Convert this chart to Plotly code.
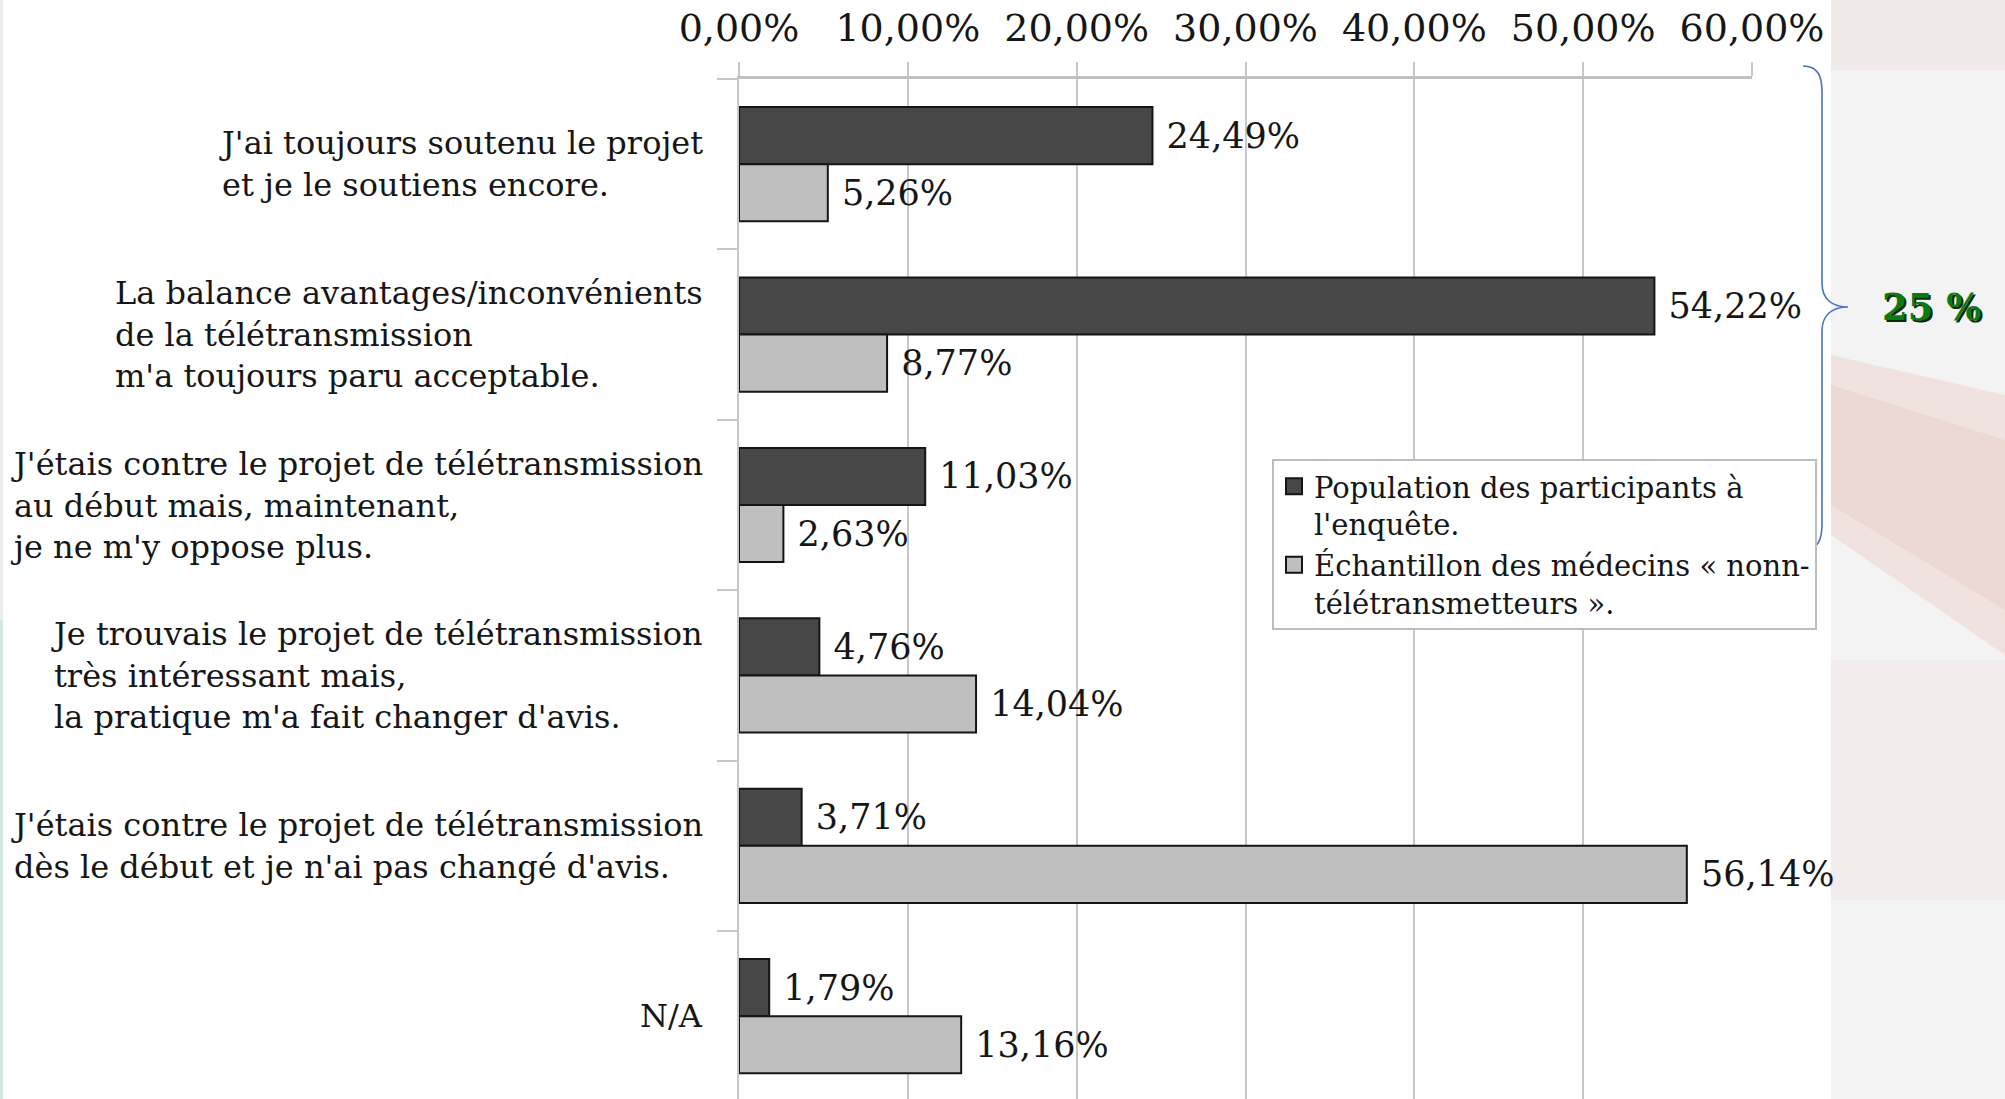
import plotly.graph_objects as go

# ---------------- data ----------------
categories = [
    "J'ai toujours soutenu le projet<br>et je le soutiens encore.",
    "La balance avantages/inconvénients<br>de la télétransmission<br>m'a toujours paru acceptable.",
    "J'étais contre le projet de télétransmission<br>au début mais, maintenant,<br>je ne m'y oppose plus.",
    "Je trouvais le projet de télétransmission<br>très intéressant mais,<br>la pratique m'a fait changer d'avis.",
    "J'étais contre le projet de télétransmission<br>dès le début et je n'ai pas changé d'avis.",
    "N/A",
]
participants = [24.49, 54.22, 11.03, 4.76, 3.71, 1.79]
non_teletransmetteurs = [5.26, 8.77, 2.63, 14.04, 56.14, 13.16]
series_names = [
    "Population des participants à<br>l'enquête.",
    "Échantillon des médecins « nonn-<br>télétransmetteurs ».",
]
x_tick_values = [0, 10, 20, 30, 40, 50, 60]
x_tick_labels = ["0,00%", "10,00%", "20,00%", "30,00%", "40,00%", "50,00%", "60,00%"]
brace_label = "25 %"

# ---------------- layout geometry (pixels) ----------------
W, H = 2005, 1099
PL, PR, PT, PB = 739, 1752, 79, 1099
CAT_PX = 170.4


def px_x(x):
    return (x - PL) / (PR - PL)


def px_y(y):
    return (PB - y) / (PB - PT)


def fmt(v):
    return "\u00a0" + f"{v:.2f}".replace(".", ",") + "%"


FONT = "DejaVu Serif"
DARK = "#474747"
LIGHT = "#bfbfbf"
EDGE = "#151515"
GRID = "#c8c8c8"
TXT = "#161616"

fig = go.Figure()

fig.add_trace(go.Bar(
    y=categories, x=participants, orientation="h",
    marker=dict(color=DARK, line=dict(color=EDGE, width=2)),
    text=[fmt(v) for v in participants], textposition="outside",
    textfont=dict(family=FONT, size=35, color=TXT),
    cliponaxis=False, constraintext="none", showlegend=False,
    name=series_names[0],
))
fig.add_trace(go.Bar(
    y=categories, x=non_teletransmetteurs, orientation="h",
    marker=dict(color=LIGHT, line=dict(color=EDGE, width=2)),
    text=[fmt(v) for v in non_teletransmetteurs], textposition="outside",
    textfont=dict(family=FONT, size=35, color=TXT),
    cliponaxis=False, constraintext="none", showlegend=False,
    name=series_names[1],
))

# legend entries
for name, col in zip(series_names, [DARK, LIGHT]):
    fig.add_trace(go.Scatter(
        x=[None], y=[None], mode="markers", name=name,
        marker=dict(symbol="square", size=16, color=col, line=dict(color=EDGE, width=2)),
    ))

annotations = []
for cat in categories:
    annotations.append(dict(
        x=px_x(705), xref="paper", y=cat, yref="y",
        text=cat, showarrow=False, xanchor="right", yanchor="middle", align="left",
        font=dict(family=FONT, size=32, color=TXT),
    ))

# "25 %" with shadow
annotations.append(dict(
    x=px_x(1934), y=px_y(309), xref="paper", yref="paper", text=brace_label,
    showarrow=False, xanchor="center", yanchor="middle",
    font=dict(family=FONT, size=37, color="#0d2a0d", weight="bold"),
))
annotations.append(dict(
    x=px_x(1932), y=px_y(307), xref="paper", yref="paper", text=brace_label,
    showarrow=False, xanchor="center", yanchor="middle",
    font=dict(family=FONT, size=37, color="#0b7a12", weight="bold"),
))


def P(x, y):
    return f"{px_x(x):.5f},{px_y(y):.5f}"


brace = (
    f"M {P(1803, 66)} C {P(1818, 66)} {P(1822, 76)} {P(1822, 92)} "
    f"L {P(1822, 283)} C {P(1822, 299)} {P(1832, 307)} {P(1848, 307)} "
    f"C {P(1832, 307)} {P(1822, 315)} {P(1822, 331)} "
    f"L {P(1822, 524)} C {P(1822, 540)} {P(1818, 550)} {P(1803, 550)}"
)

band_outer = (
    f"M {P(1831, 355)} L {P(2005, 395)} L {P(2005, 655)} L {P(1831, 535)} Z"
)
band_inner = (
    f"M {P(1831, 385)} L {P(2005, 440)} L {P(2005, 610)} L {P(1831, 505)} Z"
)

shapes = [
    # right background strip (photo remnant)
    dict(type="rect", xref="paper", yref="paper", x0=px_x(1831), x1=px_x(2005),
         y0=px_y(1099), y1=px_y(0), fillcolor="#f3f3f3", line=dict(width=0), layer="below"),
    dict(type="rect", xref="paper", yref="paper", x0=px_x(1831), x1=px_x(2005),
         y0=px_y(70), y1=px_y(0), fillcolor="#f0e6e3", line=dict(width=0), layer="below", opacity=0.7),
    dict(type="path", xref="paper", yref="paper", path=band_outer,
         fillcolor="#efdcd8", line=dict(width=0), layer="below", opacity=0.75),
    dict(type="path", xref="paper", yref="paper", path=band_inner,
         fillcolor="#eacfc9", line=dict(width=0), layer="below", opacity=0.55),
    dict(type="rect", xref="paper", yref="paper", x0=px_x(1831), x1=px_x(2005),
         y0=px_y(900), y1=px_y(660), fillcolor="#f1eae8", line=dict(width=0), layer="below", opacity=0.6),
    # faint left edge strip
    dict(type="rect", xref="paper", yref="paper", x0=px_x(0), x1=px_x(3),
         y0=px_y(620), y1=px_y(0), fillcolor="#ececec", line=dict(width=0), layer="below"),
    dict(type="rect", xref="paper", yref="paper", x0=px_x(0), x1=px_x(3),
         y0=px_y(1099), y1=px_y(620), fillcolor="#cfe9dc", line=dict(width=0), layer="below"),
    # brace
    dict(type="path", xref="paper", yref="paper", path=brace,
         line=dict(color="#4a72c0", width=1.6)),
]

fig.update_layout(
    width=W, height=H,
    margin=dict(l=PL, r=W - PR, t=PT, b=H - PB, pad=0),
    paper_bgcolor="white", plot_bgcolor="white",
    barmode="group", bargap=0.33, bargroupgap=0,
    font=dict(family=FONT, color=TXT),
    showlegend=True,
    legend=dict(
        x=px_x(1272), y=px_y(459), xref="paper", yref="paper",
        xanchor="left", yanchor="top",
        bgcolor="white", bordercolor="#bdbdbd", borderwidth=2,
        font=dict(family=FONT, size=29, color=TXT),
        valign="top", tracegroupgap=0, itemsizing="trace",
    ),
    xaxis=dict(
        side="top", range=[0, 60], tickvals=x_tick_values, ticktext=x_tick_labels,
        ticks="outside", ticklen=14, tickwidth=2, tickcolor=GRID,
        showline=True, linecolor="#c0c0c0", linewidth=3,
        showgrid=True, gridcolor=GRID, gridwidth=2, zeroline=False,
        tickfont=dict(family=FONT, size=38, color=TXT), ticklabelstandoff=6,
        fixedrange=True,
    ),
    yaxis=dict(
        type="category", categoryorder="array", categoryarray=categories,
        range=[-0.5 + (PB - PT) / CAT_PX, -0.5],
        tickson="boundaries", ticks="outside", ticklen=20, tickwidth=2, tickcolor=GRID,
        showticklabels=False, showline=True, linecolor=GRID, linewidth=2,
        showgrid=False, zeroline=False, fixedrange=True,
    ),
    annotations=annotations,
    shapes=shapes,
)

fig.write_html(
    "out.html",
    config={"displayModeBar": False},
    post_script="document.body.style.margin='0';document.body.style.overflow='hidden';",
)
